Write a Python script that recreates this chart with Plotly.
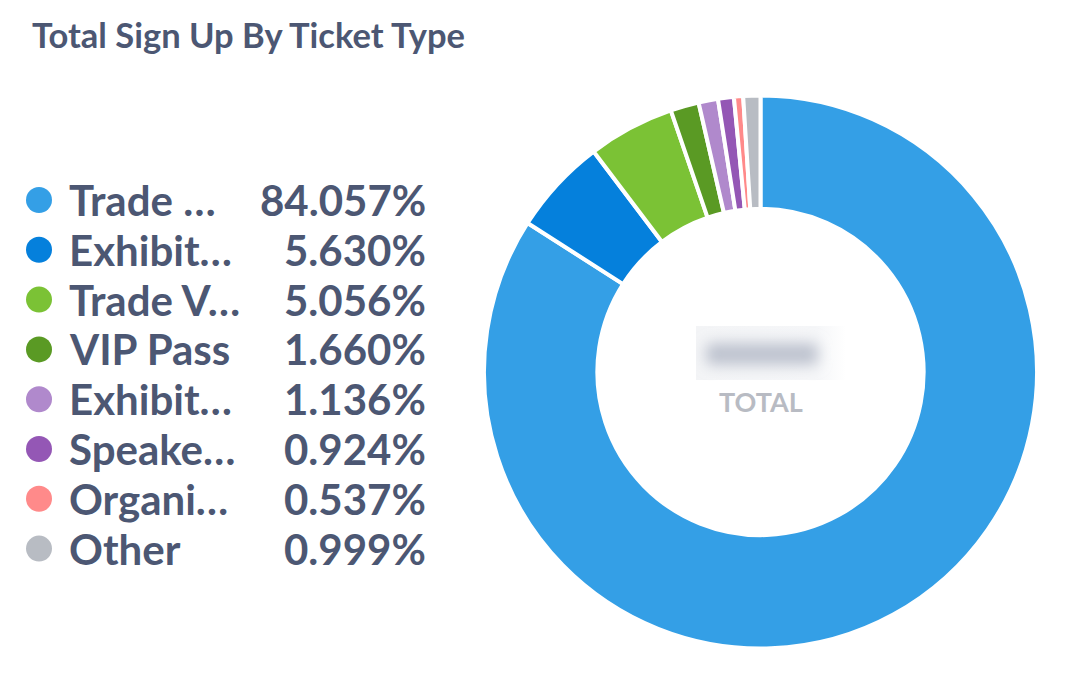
import plotly.graph_objects as go
import base64

W, H = 1070, 678
OFF = 8  # page body margin compensation

categories = ["Trade …", "Exhibit…", "Trade V…", "VIP Pass", "Exhibit…", "Speake…", "Organi…", "Other"]
percents = [84.057, 5.630, 5.056, 1.660, 1.136, 0.924, 0.537, 0.999]
pct_labels = ["84.057%", "5.630%", "5.056%", "1.660%", "1.136%", "0.924%", "0.537%", "0.999%"]
colors = ["#349FE6", "#0580DC", "#7BC235", "#5A9A24", "#B089CC", "#9457B5", "#FF8A8A", "#B8BCC3"]

TEXT = "#4C5773"
FONT = "Lato, 'Noto Sans', sans-serif"

def px(x):
    return (x - OFF) / W

def py(y):
    return 1 - (y - OFF) / H

fig = go.Figure()
fig.add_trace(go.Pie(
    labels=[f"{c} #{i}" for i, c in enumerate(categories)],
    values=percents,
    sort=False,
    direction="clockwise",
    rotation=0,
    hole=0.59,
    marker=dict(colors=colors, line=dict(color="white", width=4)),
    textinfo="none",
    hoverinfo="none",
    showlegend=False,
    domain=dict(x=[px(484), px(1037)], y=[py(648.5), py(95.5)]),
))

annotations = [
    dict(text="<b>Total Sign Up By Ticket Type</b>", x=px(30), y=py(35), xref="paper", yref="paper",
         xanchor="left", yanchor="middle", showarrow=False, font=dict(family=FONT, size=34.5, color=TEXT)),
    dict(text="<b>TOTAL</b>", x=px(761), y=py(401), xref="paper", yref="paper",
         xanchor="center", yanchor="middle", showarrow=False, font=dict(family=FONT, size=27, color="#B8BBC3")),
]
shapes = []
row_y0, row_dy = 200, 49.8
for i, (c, p, col) in enumerate(zip(categories, pct_labels, colors)):
    y = row_y0 + i * row_dy
    shapes.append(dict(type="circle", xref="paper", yref="paper",
                       x0=px(26), x1=px(52), y0=py(y + 13), y1=py(y - 13),
                       fillcolor=col, line=dict(width=0)))
    annotations.append(dict(text=f"<b>{c}</b>", x=px(67), y=py(y), xref="paper", yref="paper",
                            xanchor="left", yanchor="middle", showarrow=False,
                            font=dict(family=FONT, size=42, color=TEXT)))
    annotations.append(dict(text=f"<b>{p}</b>", x=px(428), y=py(y), xref="paper", yref="paper",
                            xanchor="right", yanchor="middle", showarrow=False,
                            font=dict(family=FONT, size=42, color=TEXT)))

# blurred (obscured) total value box
svg = ('<svg xmlns="http://www.w3.org/2000/svg" width="150" height="56" viewBox="0 0 150 56">'
       '<defs><filter id="b" x="-50%" y="-80%" width="200%" height="260%"><feGaussianBlur stdDeviation="7"/></filter>'
       '<linearGradient id="g" x1="0" x2="1" y1="0" y2="0"><stop offset="0" stop-color="#F3F4F6"/>'
       '<stop offset="0.8" stop-color="#F5F6F8"/><stop offset="1" stop-color="#FFFFFF"/></linearGradient></defs>'
       '<rect x="0" y="0" width="150" height="54" fill="url(#g)"/>'
       '<rect x="10" y="17" width="112" height="22" rx="6" fill="#BEC3CF" filter="url(#b)"/>'
       '</svg>')
uri = "data:image/svg+xml;base64," + base64.b64encode(svg.encode()).decode()

fig.update_layout(
    width=W, height=H,
    margin=dict(l=0, r=0, t=0, b=0),
    paper_bgcolor="white", plot_bgcolor="white",
    annotations=annotations, shapes=shapes,
    images=[dict(source=uri, xref="paper", yref="paper", x=px(696), y=py(326),
                 sizex=150 / W, sizey=56 / H, xanchor="left", yanchor="top",
                 sizing="stretch", layer="above")],
)

fig.write_html("out.html")
